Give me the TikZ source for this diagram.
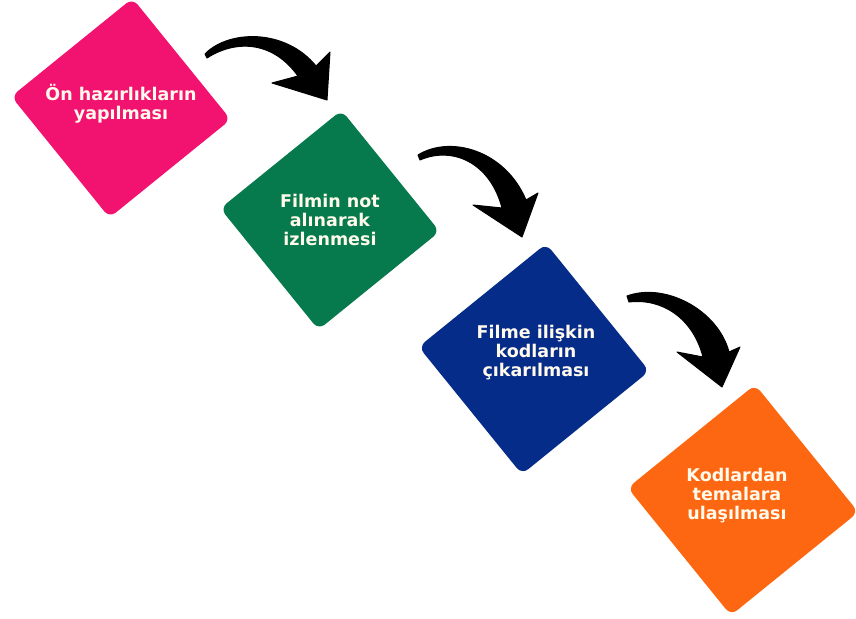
\documentclass[tikz,border=0pt]{standalone}
\usepackage{fontspec}
\setmainfont{DejaVu Sans}
\definecolor{cpink}{RGB}{241,19,111}
\definecolor{cgreen}{RGB}{6,122,77}
\definecolor{cblue}{RGB}{6,44,137}
\definecolor{corange}{RGB}{253,103,17}
\definecolor{textcream}{RGB}{255,250,236}
\begin{document}
\begin{tikzpicture}[x=1pt,y=-1pt,
  tile/.style={rectangle, rotate=39, minimum width=#1, minimum height=#1,
    inner sep=0pt, rounded corners=8pt},
  steptext/.style={text=textcream, font=\bfseries\fontsize{17.5}{19}\selectfont,
    align=center, inner sep=0pt},
  bentarrow/.style={fill=black, draw=black, line width=1pt, line join=round}]
\useasboundingbox (0,0) rectangle (856,618);

% rotated tiles
\node[tile=156pt, fill=cpink]   (s1) at (121,108) {};
\node[tile=156pt, fill=cgreen]  (s2) at (330,220) {};
\node[tile=164pt, fill=cblue]   (s3) at (534,359) {};
\node[tile=164pt, fill=corange] (s4) at (743,500) {};

% step captions
\node[steptext] (t1) at (121,104) {Ön hazırlıkların\\yapılması};
\node[steptext] (t2) at (330,220) {Filmin not\\alınarak\\izlenmesi};
\node[steptext] (t3) at (536,353) {Filme ilişkin\\kodların\\çıkarılması};
\node[steptext] (t4) at (737,496) {Kodlardan\\temalara\\ulaşılması};

% curved brush-stroke arrows between the steps
\filldraw[bentarrow] (205,54) .. controls (228,30) and (285,28) .. (316,66)
  -- (330,52) -- (327,100) -- (272,83) -- (298,76)
  .. controls (272,40) and (235,40) .. (207,58) -- cycle;
\filldraw[bentarrow] (418,155) .. controls (450,135) and (505,150) .. (526,200)
  -- (538,193) -- (522,237) -- (473,205) -- (502,208)
  .. controls (490,162) and (452,146) .. (420,160) -- cycle;
\filldraw[bentarrow] (627,296) .. controls (665,282) and (718,310) .. (729,352)
  -- (740,347) -- (722,387) -- (677,352) -- (703,357)
  .. controls (693,318) and (662,298) .. (629,302) -- cycle;
\end{tikzpicture}
\end{document}
